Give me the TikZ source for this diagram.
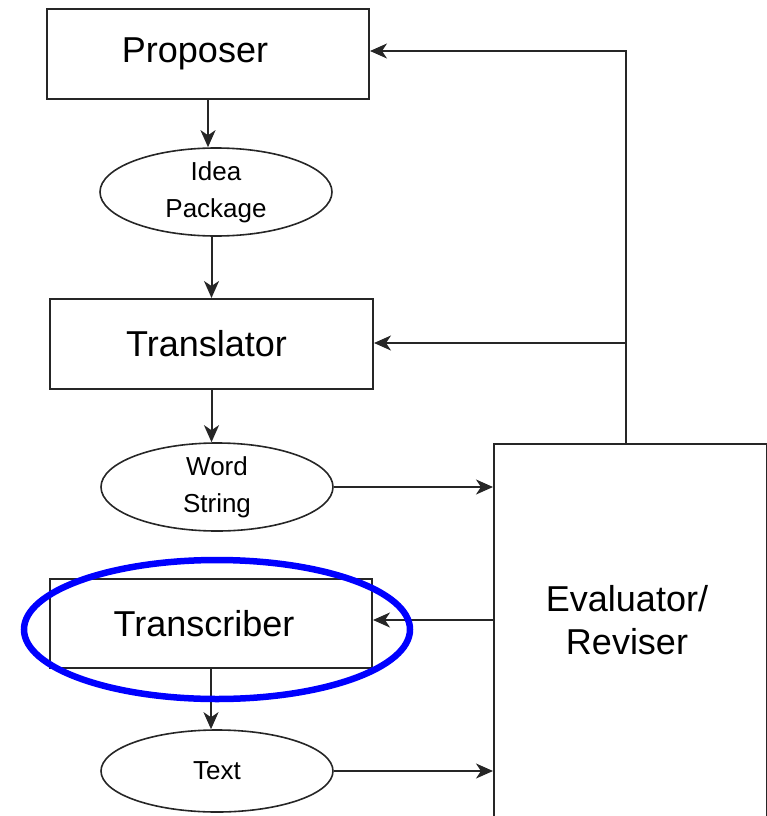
\documentclass[tikz,border=0pt]{standalone}
\usepackage{fontspec}
\setmainfont{Liberation Sans}
\usetikzlibrary{shapes.geometric,arrows.meta}
\definecolor{edge}{gray}{0.15}
\begin{document}
\begin{tikzpicture}[x=1pt,y=-1pt,
  blk/.style={draw=edge, line width=2pt, minimum width=322pt, minimum height=90pt,
    inner sep=0pt, font=\fontsize{36}{40}\selectfont},
  oval/.style={draw=edge, ellipse, line width=1.6pt, minimum width=232pt, minimum height=88pt,
    inner sep=0pt, align=center, font=\fontsize{26}{37}\selectfont},
  flow/.style={draw=edge, line width=2pt, -{Stealth[length=17pt,width=15pt,inset=5pt]}},
  ring/.style={draw=blue, ellipse, line width=6.5pt, minimum width=386pt, minimum height=139pt, inner sep=0pt}]
\useasboundingbox (0,0) rectangle (767,816);
\clip (0,0) rectangle (767,816);

% processing stages
\node[blk] (prop)   at (208,54)    {Proposer\hspace*{26pt}};
\node[oval] (idea)  at (216,192)   {Idea\\Package};
\node[blk, minimum width=323pt] (trans) at (211.5,344) {Translator\hspace*{10pt}};
\node[oval] (word)  at (217,487)   {Word\\String};
\node[blk, minimum height=89pt] (transc) at (211,623.5) {Transcriber\hspace*{14pt}};
\node[oval, minimum height=82pt] (text) at (217,771) {Text};

% evaluator box runs past the lower edge
\node[draw=edge, line width=2pt, minimum width=273pt, minimum height=394pt,
      anchor=north west, inner sep=0pt] (eval) at (493,443) {};
\node[align=center, font=\fontsize{36}{43}\selectfont] (evaltext) at (627,620) {Evaluator/\\Reviser};

% forward chain
\draw[flow] (prop.south) -- (prop.south |- idea.north);
\draw[flow] (trans.north |- idea.south) -- (trans.north);
\draw[flow] (trans.south) -- (trans.south |- word.north);
\draw[flow] (transc.south) -- (transc.south |- text.north);
\draw[flow] (word.east) -- (word.east -| eval.west);
\draw[flow] (text.east) -- (text.east -| eval.west);

% feedback from the evaluator
\coordinate (trunk) at (626,443);
\coordinate (bend)  at (626,51);
\coordinate (split) at (626,343);
\coordinate (back)  at (493,620);
\draw[flow] (trunk) -- (bend) -- (bend -| prop.east);
\draw[flow] (split) -- (split -| trans.east);
\draw[flow] (back) -- (back -| transc.east);

% highlight round the transcriber
\node[ring] (mark) at (217,629.5) {};
\end{tikzpicture}
\end{document}
